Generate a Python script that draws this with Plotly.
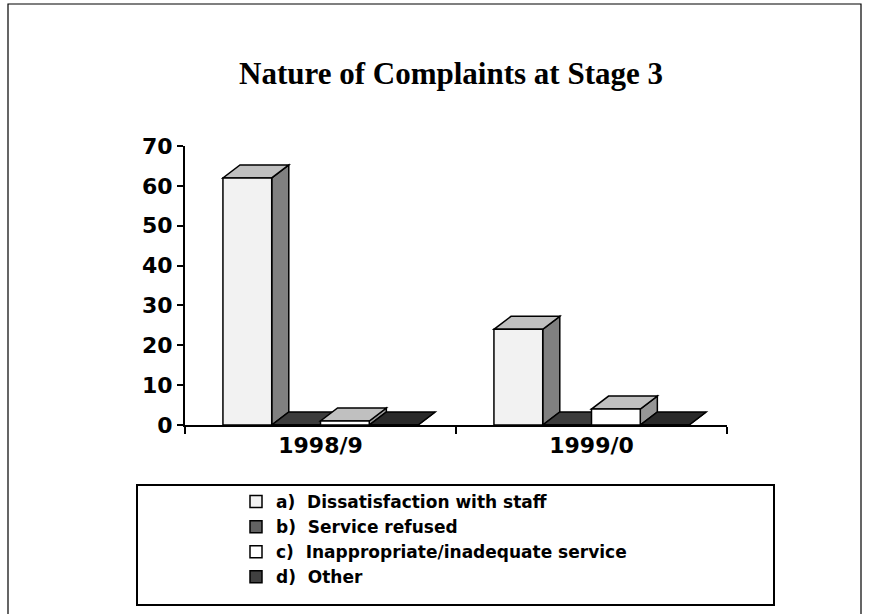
import plotly.graph_objects as go

categories = ["1998/9", "1999/0"]
series_names = [
    "a)\u00a0 Dissatisfaction with staff",
    "b)\u00a0 Service refused",
    "c)\u00a0 Inappropriate/inadequate service",
    "d)\u00a0 Other",
]
values_a = [62, 24]
values_b = [0, 0]
values_c = [1, 4]
values_d = [0, 0]
y_ticks = [0, 10, 20, 30, 40, 50, 60, 70]

all_values = [values_a, values_b, values_c, values_d]
front_colors = ["#F2F2F2", "#626262", "#FFFFFF", "#404040"]
top_colors = ["#C0C0C0", "#3C3C3C", "#C0C0C0", "#2A2A2A"]
side_colors = ["#808080", "#4A4A4A", "#969696", "#303030"]

n = len(all_values)
bargap = 0.28
bw = (1 - bargap) / n
depth_x = 0.063   # depth in category units
depth_y = 3.26    # depth in value units

fig = go.Figure()
shapes = []
for i, (name, vals) in enumerate(zip(series_names, all_values)):
    offset = -(1 - bargap) / 2 + bw * i
    fig.add_trace(go.Bar(
        x=categories, y=vals, name=name,
        width=bw, offset=offset,
        marker=dict(color=front_colors[i], line=dict(color="black", width=1.5)),
        hoverinfo="skip",
    ))
    for k, h in enumerate(vals):
        L = k + offset
        R = L + bw
        top = f"M {L},{h} L {R},{h} L {R+depth_x},{h+depth_y} L {L+depth_x},{h+depth_y} Z"
        side = f"M {R},0 L {R+depth_x},{depth_y} L {R+depth_x},{h+depth_y} L {R},{h} Z"
        shapes.append(dict(type="path", path=side, xref="x", yref="y", layer="below",
                           fillcolor=side_colors[i], line=dict(color="black", width=1.5)))
        shapes.append(dict(type="path", path=top, xref="x", yref="y", layer="below",
                           fillcolor=top_colors[i], line=dict(color="black", width=1.5)))

# page frame and legend box
W, H = 887, 614
l, r, t, b = 185, 160, 146, 189
pw, ph = W - l - r, H - t - b
def px(xp): return (xp - l) / pw
def py(yp): return (H - b - yp) / ph

shapes.append(dict(type="rect", xref="paper", yref="paper",
                   x0=px(8), x1=px(861), y0=py(640), y1=py(4),
                   line=dict(color="black", width=1.2), fillcolor="rgba(0,0,0,0)"))
shapes.append(dict(type="rect", xref="paper", yref="paper",
                   x0=px(137), x1=px(774), y0=py(605), y1=py(485),
                   line=dict(color="black", width=2), fillcolor="rgba(0,0,0,0)"))

bold = dict(family="DejaVu Sans, Liberation Sans, Arial, sans-serif", color="black", weight="bold")

fig.update_layout(
    width=W, height=H,
    margin=dict(l=l, r=r, t=t, b=b, pad=0),
    paper_bgcolor="white", plot_bgcolor="rgba(0,0,0,0)",
    barmode="overlay",
    showlegend=True,
    shapes=shapes,
    title=dict(text="Nature of Complaints at Stage 3",
               font=dict(family="Liberation Serif, Times New Roman, serif", size=31,
                         color="black", weight="bold"),
               x=px(451), xref="paper", xanchor="center",
               y=1 - 73 / H, yref="container", yanchor="middle"),
    xaxis=dict(type="category", range=[-0.5, 1.5], tickson="boundaries",
               showline=True, linecolor="black", linewidth=2,
               ticks="outside", ticklen=7, tickwidth=2, tickcolor="black",
               showgrid=False, zeroline=False,
               tickfont=dict(size=22, **bold)),
    yaxis=dict(range=[0, 70], tickvals=y_ticks, ticktext=[str(v) for v in y_ticks],
               showline=True, linecolor="black", linewidth=2,
               ticks="outside", ticklen=6, tickwidth=2, tickcolor="black",
               showgrid=False, zeroline=False,
               tickfont=dict(size=22, **bold)),
    legend=dict(x=px(236), xanchor="left", y=py(484), yanchor="top",
                bgcolor="rgba(0,0,0,0)", borderwidth=0,
                font=dict(size=17, **bold), traceorder="normal",
                itemclick=False, itemdoubleclick=False),
)

fig.write_html("out.html", config={"displayModeBar": False},
               post_script="document.body.style.margin='0px';")
